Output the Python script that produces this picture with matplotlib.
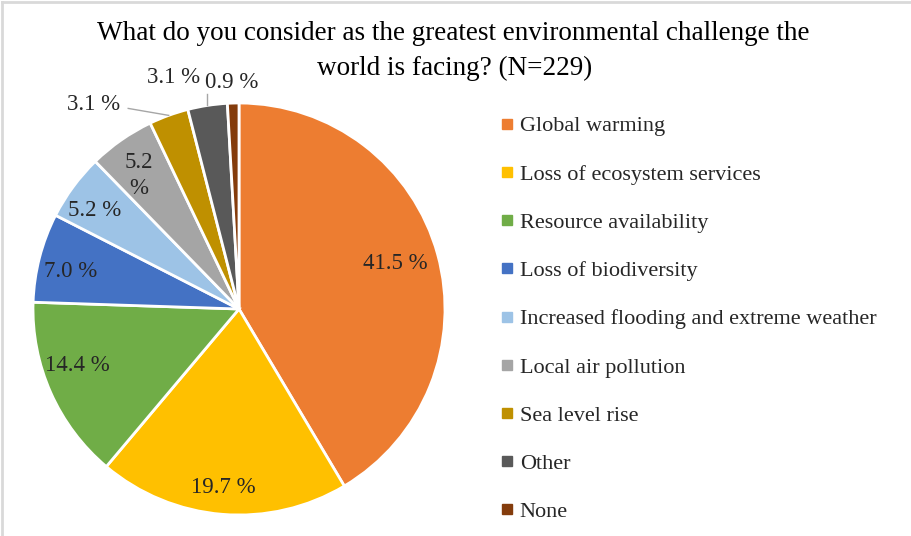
import matplotlib.pyplot as plt
from matplotlib.lines import Line2D
import numpy as np

plt.rcParams['font.family'] = ['Liberation Serif', 'DejaVu Serif']

categories = ['Global warming', 'Loss of ecosystem services', 'Resource availability',
              'Loss of biodiversity', 'Increased flooding and extreme weather',
              'Local air pollution', 'Sea level rise', 'Other', 'None']
shares = [41.5, 19.7, 14.4, 7.0, 5.2, 5.2, 3.1, 3.1, 0.9]
value_labels = ['41.5 %', '19.7 %', '14.4 %', '7.0 %', '5.2 %', '5.2\n%', '3.1 %', '3.1 %', '0.9 %']
colors = ['#ED7D31', '#FFC000', '#70AD47', '#4472C4', '#9DC3E6',
          '#A5A5A5', '#BF9000', '#595959', '#843C0C']

# (radius, angle offset in degrees) for each percentage label
label_pos = [(0.79, 0.7), (0.87, -0.5), (0.83, -4.6), (0.84, 1.8), (0.85, 2.2),
             (0.81, 2.0), (1.22, 15.5), (1.17, 7.0), (1.10, 0.3)]
has_leader = [False, False, False, False, False, False, True, True, False]

W, H = 911, 536
fig = plt.figure(figsize=(W / 100, H / 100), dpi=100)
cx, cy, r = 239, 309, 206
ax = fig.add_axes([(cx - r) / W, (H - cy - r) / H, 2 * r / W, 2 * r / H])

wedges, _ = ax.pie(shares, colors=colors, startangle=90, counterclock=False,
                   radius=1.0, wedgeprops=dict(edgecolor='white', linewidth=2))
ax.set_xlim(-1, 1)
ax.set_ylim(-1, 1)
ax.set_aspect('equal')
ax.axis('off')

for w, lab, (rr, off), lead in zip(wedges, value_labels, label_pos, has_leader):
    mid = np.deg2rad((w.theta1 + w.theta2) / 2 + off)
    tx, ty = rr * np.cos(mid), rr * np.sin(mid)
    ax.text(tx, ty, lab, ha='center', va='center', fontsize=16.5,
            color='#262626', linespacing=1.3)
    if lead:
        m = np.deg2rad((w.theta1 + w.theta2) / 2)
        ex, ey = 1.0 * np.cos(m), 1.0 * np.sin(m)
        if ty > 1.1 and abs(tx) < 0.4:
            ax.plot([ex, ex], [ty - 0.08, ey], color='#A6A6A6', lw=1, clip_on=False)
        else:
            ax.plot([tx + 0.17, ex], [ty - 0.02, ey], color='#A6A6A6', lw=1, clip_on=False)

fig.text(453 / W, 1 - 34 / H, 'What do you consider as the greatest environmental challenge the',
         ha='center', va='center', fontsize=19.5, color='black')
fig.text(455 / W, 1 - 68 / H, 'world is facing? (N=229)',
         ha='center', va='center', fontsize=19.5, color='black')

handles = [Line2D([], [], marker='s', linestyle='none', markersize=7,
                  markerfacecolor=c, markeredgecolor=c) for c in colors]
fig.legend(handles, categories, loc='upper left', bbox_to_anchor=(493 / W, 1 - 107 / H),
           frameon=False, fontsize=16, handlelength=0.5, handletextpad=0.3,
           labelspacing=1.245, borderaxespad=0, labelcolor='#262626')

# chart frame
fig.add_artist(Line2D([0.002, 0.002], [0, 0.997], color='#D9D9D9', lw=2))
fig.add_artist(Line2D([0.002, 1], [0.997, 0.997], color='#D9D9D9', lw=2))

fig.savefig('out.png', dpi=100)
